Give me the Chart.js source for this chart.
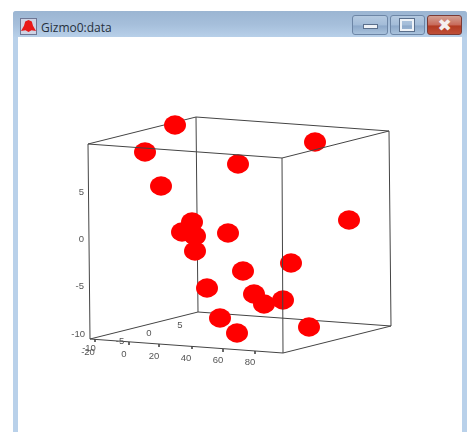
<!DOCTYPE html>
<html>
<head>
<meta charset="utf-8">
<title>Gizmo0:data</title>
<script src="https://cdn.jsdelivr.net/npm/chart.js@4/dist/chart.umd.min.js"></script>
<style>
html, body { margin: 0; padding: 0; background: #fff; overflow: hidden; }
#page { position: relative; width: 473px; height: 432px; background: #fff; }
#win { position: absolute; left: 13px; top: 11px; width: 454px; height: 421px; background: #b9d1ea; border-radius: 3px 3px 0 0; }
#bar { position: absolute; left: 0; top: 0; width: 454px; height: 27px; border-radius: 3px 3px 0 0; background: linear-gradient(#9bb5d2, #a6bfdb 50%, #b9d1ea); }
#client { position: absolute; left: 5px; top: 26px; width: 444px; height: 395px; background: #fff; }
#icon { position: absolute; left: 7px; top: 7px; width: 15px; height: 15px; background: #cfd3e4; border: 1px solid #6f7694; overflow: hidden; }
#icon div { position: absolute; left: 0; top: 1px; width: 15px; height: 13px; background: #e81818; clip-path: polygon(50% 0, 72% 12%, 80% 45%, 100% 85%, 70% 78%, 50% 92%, 30% 78%, 0 85%, 20% 45%, 28% 12%); }
#name { position: absolute; left: 28px; top: 9px; font: 12px "Open Sans", sans-serif; color: #26303c; line-height: 16px; }
.btn { position: absolute; top: 4px; height: 18px; border: 1px solid #6d86a6; border-radius: 3px; background: linear-gradient(#b4c9e0, #a3bcd8 50%, #8ca8c9 55%, #a9c2dc); }
#close { background: linear-gradient(#d3a092, #c8695a 50%, #b23a22 55%, #bf4f38); border-color: #7a3a35; }
#min { left: 339px; width: 34px; }
#max { left: 377px; width: 33px; }
#close { left: 414px; width: 33px; }
#min div { position: absolute; left: 10px; top: 8px; width: 15px; height: 5px; background: #eef2f7; border: 1px solid #5a6f8c; box-sizing: border-box; }
#max div { position: absolute; left: 9px; top: 3px; width: 14px; height: 12px; border: 2px solid #eef2f7; outline: 1px solid #5a6f8c; box-sizing: border-box; }
#close span { position: absolute; left: 0; top: -1px; width: 33px; text-align: center; font: 17px "DejaVu Sans", sans-serif; color: #f5f0ee; line-height: 20px; }
#plot { position: absolute; left: 0; top: 0; }
</style>
</head>
<body>
<div id="page">
    <div id="win">
        <div id="bar"></div>
        <div id="client"></div>
        <div id="icon"><div></div></div>
        <div id="name">Gizmo0:data</div>
        <div class="btn" id="min"><div></div></div>
        <div class="btn" id="max"><div></div></div>
        <div class="btn" id="close"><span>✖</span></div>
    </div>
    <canvas id="plot" width="473" height="432"></canvas>
</div>
<script>
// points (the 3d view is already flattened)
var pointsX = [175, 145, 161, 238, 315, 349, 192, 182, 195, 228, 195, 291, 243, 207, 254, 283, 264, 220, 237, 309];
var pointsY = [125, 152, 186, 164, 142, 220, 222, 232, 236, 233, 251, 263, 271, 288, 294, 300, 304, 318, 333, 327];

// cube edges, null breaks the line
var backX = [88, 196, 389, null, 90, 198, 391, null, 196, 198, null, 88, 90, null, 389, 391];
var backY = [144, 117, 131, null, 339, 312, 326, null, 117, 312, null, 144, 339, null, 131, 326];
var frontX = [88, 282, 389, null, 90, 283, 391, null, 282, 283];
var frontY = [144, 158, 131, null, 339, 353, 326, null, 158, 353];

// small tick marks under the front bottom edge
var markX = [95, 95, null, 129, 129, null, 159, 159, null, 192, 192, null, 223, 223, null, 255, 255];
var markY = [339, 342, null, 342, 345, null, 344, 347, null, 346, 349, null, 349, 352, null, 351, 354];

// tick labels
var zTicks = ['5', '0', '-5', '-10'];
var zTickX = [84, 84, 84, 85];
var zTickY = [192, 239, 286, 334];
var xTicks = ['-20', '0', '20', '40', '60', '80'];
var xTickX = [88, 124, 154, 186, 218, 250];
var xTickY = [352, 354, 356, 358, 360, 362];
var yTicks = ['-10', '-5', '0', '5'];
var yTickX = [89, 120, 149, 180];
var yTickY = [348, 341, 333, 325];

function toXY(xs, ys)
{
    var out = [];
    for (var i = 0; i < xs.length; i++) {
        out.push(xs[i] === null ? {x: null, y: null} : {x: xs[i], y: ys[i]});
    }
    return out;
}

// points are a bit wider than tall in the picture
var dot = document.createElement('canvas');
dot.width = 22;
dot.height = 20;
var dotCtx = dot.getContext('2d');
dotCtx.fillStyle = '#ff0000';
dotCtx.beginPath();
dotCtx.ellipse(11, 10, 11, 9.7, 0, 0, Math.PI * 2);
dotCtx.fill();

var tickLabels = {
    id: 'tickLabels',
    afterDraw: function (chart) {
        var ctx = chart.ctx;
        var sx = chart.scales.x;
        var sy = chart.scales.y;
        ctx.save();
        ctx.font = '9.5px "Liberation Sans", Arial, sans-serif';
        ctx.fillStyle = '#555';
        ctx.textBaseline = 'middle';
        ctx.textAlign = 'right';
        zTicks.forEach(function (t, i) {
            ctx.fillText(t, sx.getPixelForValue(zTickX[i]), sy.getPixelForValue(zTickY[i]));
        });
        ctx.textAlign = 'center';
        xTicks.forEach(function (t, i) {
            ctx.fillText(t, sx.getPixelForValue(xTickX[i]), sy.getPixelForValue(xTickY[i]));
        });
        yTicks.forEach(function (t, i) {
            ctx.fillText(t, sx.getPixelForValue(yTickX[i]), sy.getPixelForValue(yTickY[i]));
        });
        ctx.restore();
    }
};

new Chart('plot', {
    type: 'scatter',
    data: {
        datasets: [
            {
                label: 'front',
                data: toXY(frontX, frontY),
                showLine: true,
                spanGaps: false,
                borderColor: '#444',
                borderWidth: 1,
                pointRadius: 0,
                order: 1
            },
            {
                label: 'marks',
                data: toXY(markX, markY),
                showLine: true,
                spanGaps: false,
                borderColor: '#555',
                borderWidth: 1,
                pointRadius: 0,
                order: 1
            },
            {
                label: 'data',
                data: toXY(pointsX, pointsY),
                pointStyle: dot,
                backgroundColor: '#ff0000',
                order: 2
            },
            {
                label: 'back',
                data: toXY(backX, backY),
                showLine: true,
                spanGaps: false,
                borderColor: '#444',
                borderWidth: 1,
                pointRadius: 0,
                order: 3
            }
        ]
    },
    options: {
        responsive: false,
        animation: false,
        layout: {padding: 0, autoPadding: false},
        plugins: {legend: {display: false}, tooltip: {enabled: false}},
        scales: {
            x: {display: false, min: 0, max: 473},
            y: {display: false, min: 0, max: 432, reverse: true}
        }
    },
    plugins: [tickLabels]
});
</script>
</body>
</html>
